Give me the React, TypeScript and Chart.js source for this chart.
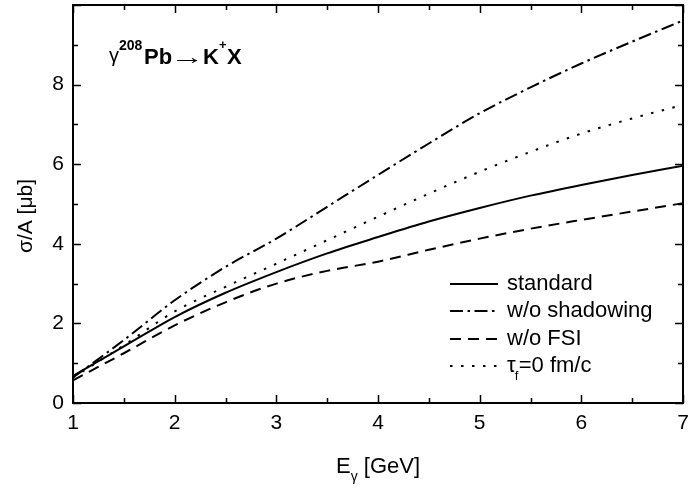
import React, { useEffect, useRef } from "react";
import { Chart, registerables } from "chart.js";

Chart.register(...registerables);

const energies = [1, 1.5, 2, 2.5, 3, 3.5, 4, 4.5, 5, 5.5, 6, 6.5, 7];
const standard = [0.68, 1.42, 2.16, 2.77, 3.29, 3.76, 4.17, 4.56, 4.9, 5.21, 5.48, 5.73, 5.96];
const noShadowing = [0.64, 1.58, 2.58, 3.42, 4.13, 4.93, 5.73, 6.52, 7.28, 7.93, 8.53, 9.08, 9.61];
const noFSI = [0.57, 1.25, 1.95, 2.53, 3.0, 3.32, 3.55, 3.85, 4.13, 4.38, 4.6, 4.81, 5.02];
const tauZero = [0.64, 1.45, 2.3, 2.92, 3.5, 4.09, 4.68, 5.26, 5.81, 6.31, 6.77, 7.15, 7.49];

const seriesLabels = ["standard", "w/o shadowing", "w/o FSI", "τf=0 fm/c"];
const xTicks = [1, 2, 3, 4, 5, 6, 7];
const yTicks = [0, 2, 4, 6, 8];

const FONT = "'Liberation Sans', Arial, sans-serif";
const dashes: number[][] = [[], [13, 4.5, 2.5, 4.5], [11, 7], [2.5, 8.5]];

const framePlugin = {
  id: "framePlugin",
  afterDraw(chart: any) {
    const { ctx, chartArea: a, scales } = chart;
    const xs = scales.x;
    const ys = scales.y;
    ctx.save();
    ctx.strokeStyle = "#000";
    ctx.lineWidth = 2;
    ctx.setLineDash([]);
    ctx.strokeRect(a.left, a.top, a.right - a.left, a.bottom - a.top);
    ctx.lineWidth = 1.5;
    for (let v = 1; v <= 7.001; v += 0.5) {
      const px = Math.round(xs.getPixelForValue(v)) + 0.5;
      const len = Math.abs(v - Math.round(v)) < 1e-6 ? 8 : 5;
      ctx.beginPath();
      ctx.moveTo(px, a.bottom);
      ctx.lineTo(px, a.bottom - len);
      ctx.moveTo(px, a.top);
      ctx.lineTo(px, a.top + len);
      ctx.stroke();
    }
    for (let v = 0; v <= 10.001; v += 1) {
      const py = Math.round(ys.getPixelForValue(v)) + 0.5;
      const len = v % 2 === 0 ? 8 : 5;
      ctx.beginPath();
      ctx.moveTo(a.left, py);
      ctx.lineTo(a.left + len, py);
      ctx.moveTo(a.right, py);
      ctx.lineTo(a.right - len, py);
      ctx.stroke();
    }

    ctx.fillStyle = "#000";
    ctx.textBaseline = "alphabetic";
    // x title: E_γ [GeV]
    ctx.font = `22px ${FONT}`;
    const eW = ctx.measureText("E").width;
    ctx.font = `14px ${FONT}`;
    const gW = ctx.measureText("γ").width;
    ctx.font = `22px ${FONT}`;
    const restW = ctx.measureText(" [GeV]").width;
    const total = eW + gW + restW;
    const x0 = 378 - total / 2;
    ctx.textAlign = "left";
    ctx.fillText("E", x0, 473);
    ctx.font = `14px ${FONT}`;
    ctx.fillText("γ", x0 + eW, 481);
    ctx.font = `22px ${FONT}`;
    ctx.fillText(" [GeV]", x0 + eW + gW, 473);

    // y title
    ctx.save();
    ctx.translate(32, 216);
    ctx.rotate(-Math.PI / 2);
    ctx.textAlign = "center";
    ctx.font = `21px ${FONT}`;
    ctx.fillText("σ/A [μb]", 0, 0);
    ctx.restore();

    // reaction label
    ctx.textAlign = "left";
    const by = 64;
    ctx.font = `20px ${FONT}`;
    ctx.fillText("γ", 109, by - 2);
    ctx.font = `bold 14px ${FONT}`;
    ctx.fillText("208", 119, by - 14);
    ctx.font = `bold 22px ${FONT}`;
    ctx.fillText("Pb", 144, by);
    ctx.save();
    ctx.font = `22px ${FONT}`;
    ctx.translate(170.5, by);
    ctx.scale(1.55, 1);
    ctx.fillText("→", 0, 0);
    ctx.restore();
    ctx.font = `bold 22px ${FONT}`;
    ctx.fillText("K", 203, by);
    ctx.font = `bold 13px ${FONT}`;
    ctx.fillText("+", 219, by - 15);
    ctx.font = `bold 22px ${FONT}`;
    ctx.fillText("X", 227, by);

    // legend
    const rows = [284, 311, 339, 366];
    ctx.lineWidth = 2;
    rows.forEach((ry, i) => {
      ctx.setLineDash(dashes[i]);
      ctx.beginPath();
      ctx.moveTo(450, ry);
      ctx.lineTo(498, ry);
      ctx.stroke();
      ctx.setLineDash([]);
      ctx.font = `22px ${FONT}`;
      ctx.textBaseline = "middle";
      if (i === 3) {
        ctx.fillText("τ", 507, ry);
        const tw = ctx.measureText("τ").width;
        ctx.font = `13px ${FONT}`;
        ctx.fillText("f", 507 + tw - 1, ry + 10);
        ctx.font = `22px ${FONT}`;
        ctx.fillText("=0 fm/c", 507 + tw + 3, ry);
      } else {
        ctx.fillText(seriesLabels[i], 507, ry);
      }
    });
    ctx.restore();
  },
};

export default function App() {
  const ref = useRef<HTMLCanvasElement | null>(null);
  useEffect(() => {
    if (!ref.current) return;
    const all = [standard, noShadowing, noFSI, tauZero];
    const chart = new Chart(ref.current, {
      type: "line",
      data: {
        datasets: all.map((vals, i) => ({
          label: seriesLabels[i],
          data: energies.map((e, j) => ({ x: e, y: vals[j] })),
          borderColor: "#000",
          borderWidth: 2,
          borderDash: dashes[i],
          pointRadius: 0,
          fill: false,
          cubicInterpolationMode: "monotone" as const,
        })),
      },
      options: {
        animation: false,
        responsive: false,
        layout: { padding: { left: 0, right: 6, top: 5, bottom: 0 } },
        plugins: { legend: { display: false }, tooltip: { enabled: false } },
        scales: {
          x: {
            type: "linear",
            min: 1,
            max: 7,
            afterBuildTicks: (s: any) => {
              s.ticks = xTicks.map((v) => ({ value: v }));
            },
            afterFit: (s: any) => {
              s.height = 89;
              s.paddingLeft = 0;
              s.paddingRight = 0;
            },
            grid: { display: false, drawTicks: false },
            border: { display: false },
            ticks: {
              padding: 8,
              color: "#000",
              font: { family: FONT, size: 21 },
              maxRotation: 0,
            },
          },
          y: {
            type: "linear",
            min: 0,
            max: 10,
            afterBuildTicks: (s: any) => {
              s.ticks = yTicks.map((v) => ({ value: v }));
            },
            afterFit: (s: any) => {
              s.width = 73;
              s.paddingTop = 0;
              s.paddingBottom = 0;
            },
            grid: { display: false, drawTicks: false },
            border: { display: false },
            ticks: {
              padding: 9,
              color: "#000",
              font: { family: FONT, size: 21 },
            },
          },
        },
      },
      plugins: [framePlugin],
    });
    return () => chart.destroy();
  }, []);
  return (
    <div style={{ position: "absolute", left: 0, top: 0, width: 689, height: 492, background: "#fff" }}>
      <canvas ref={ref} width={689} height={492} style={{ display: "block" }} />
    </div>
  );
}
